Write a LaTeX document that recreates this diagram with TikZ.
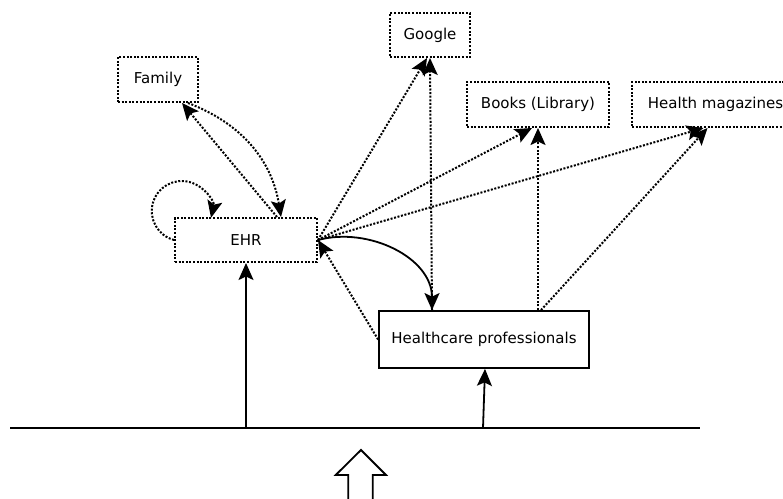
\documentclass[tikz,border=0pt]{standalone}
\usepackage{fontspec}
\setmainfont{DejaVu Sans}
\usetikzlibrary{arrows.meta}

\begin{document}
\begin{tikzpicture}[x=1pt,y=1pt,line width=1.8pt,
  font=\fontsize{15}{18}\selectfont,
  dots/.style={line width=2pt,dash pattern=on 2pt off 1.6pt},
  tip/.style={-{Stealth[length=17pt,width=15pt,inset=3.5pt]}},
  src/.style={draw,dots,inner sep=0pt}]
\useasboundingbox (0,0) rectangle (783,498);
\node[src,minimum width=80,minimum height=45] (Fam) at (158,418.5) {Family};
\node[src,minimum width=142,minimum height=44] (EHR) at (246,258) {EHR};
\node[src,minimum width=80,minimum height=44] (Goo) at (430,463) {Google};
\node[src,minimum width=142,minimum height=45] (Book) at (538,393.5) {Books (Library)};
\node[src,minimum width=167,minimum height=45] (Mag) at (715.5,393.5) {Health magazines};
\node[draw,inner sep=0pt,minimum width=210,minimum height=57] (HP) at (484,158.5) {Healthcare professionals};

\coordinate (L) at (10,70);
\coordinate (R) at (700,70);
\coordinate (E0) at (246,70);
\coordinate (H0) at (483,70);
\draw (L) -- (R);
\draw[tip] (E0) -- (EHR.south);
\draw[tip] (H0) -- ([xshift=1]HP.south);

\draw[tip,dots] ([xshift=31]EHR.north) -- ([xshift=24]Fam.south);
\draw[tip,dots] ([xshift=30]Fam.south) to[bend left] ([xshift=35]EHR.north);
\draw[tip,dots] (EHR.west) arc[start angle=255,end angle=-13,radius=30];

\draw[tip,dots] (EHR.east) -- ([xshift=-3]Goo.south);
\draw[tip,dots] (EHR.east) -- ([xshift=-6]Book.south);
\draw[tip,dots] (EHR.east) -- ([xshift=-12]Mag.south);
\draw[tip] (EHR.east) to[out=15,in=90] ([xshift=-52]HP.north);

\draw[tip,dots] ([xshift=-52]HP.north) -- (Goo.south);
\draw[tip,dots] ([xshift=54]HP.north) -- (Book.south);
\draw[tip,dots] ([xshift=57]HP.north) -- ([xshift=-8]Mag.south);
\draw[tip,dots] (HP.west) -- (EHR.east);

% hollow arrow at the bottom
\draw (348.3,-3) -- (348.3,23) -- (335.7,23) -- (361,48) -- (386,23) -- (372.7,23) -- (372.7,-3);
\end{tikzpicture}
\end{document}
